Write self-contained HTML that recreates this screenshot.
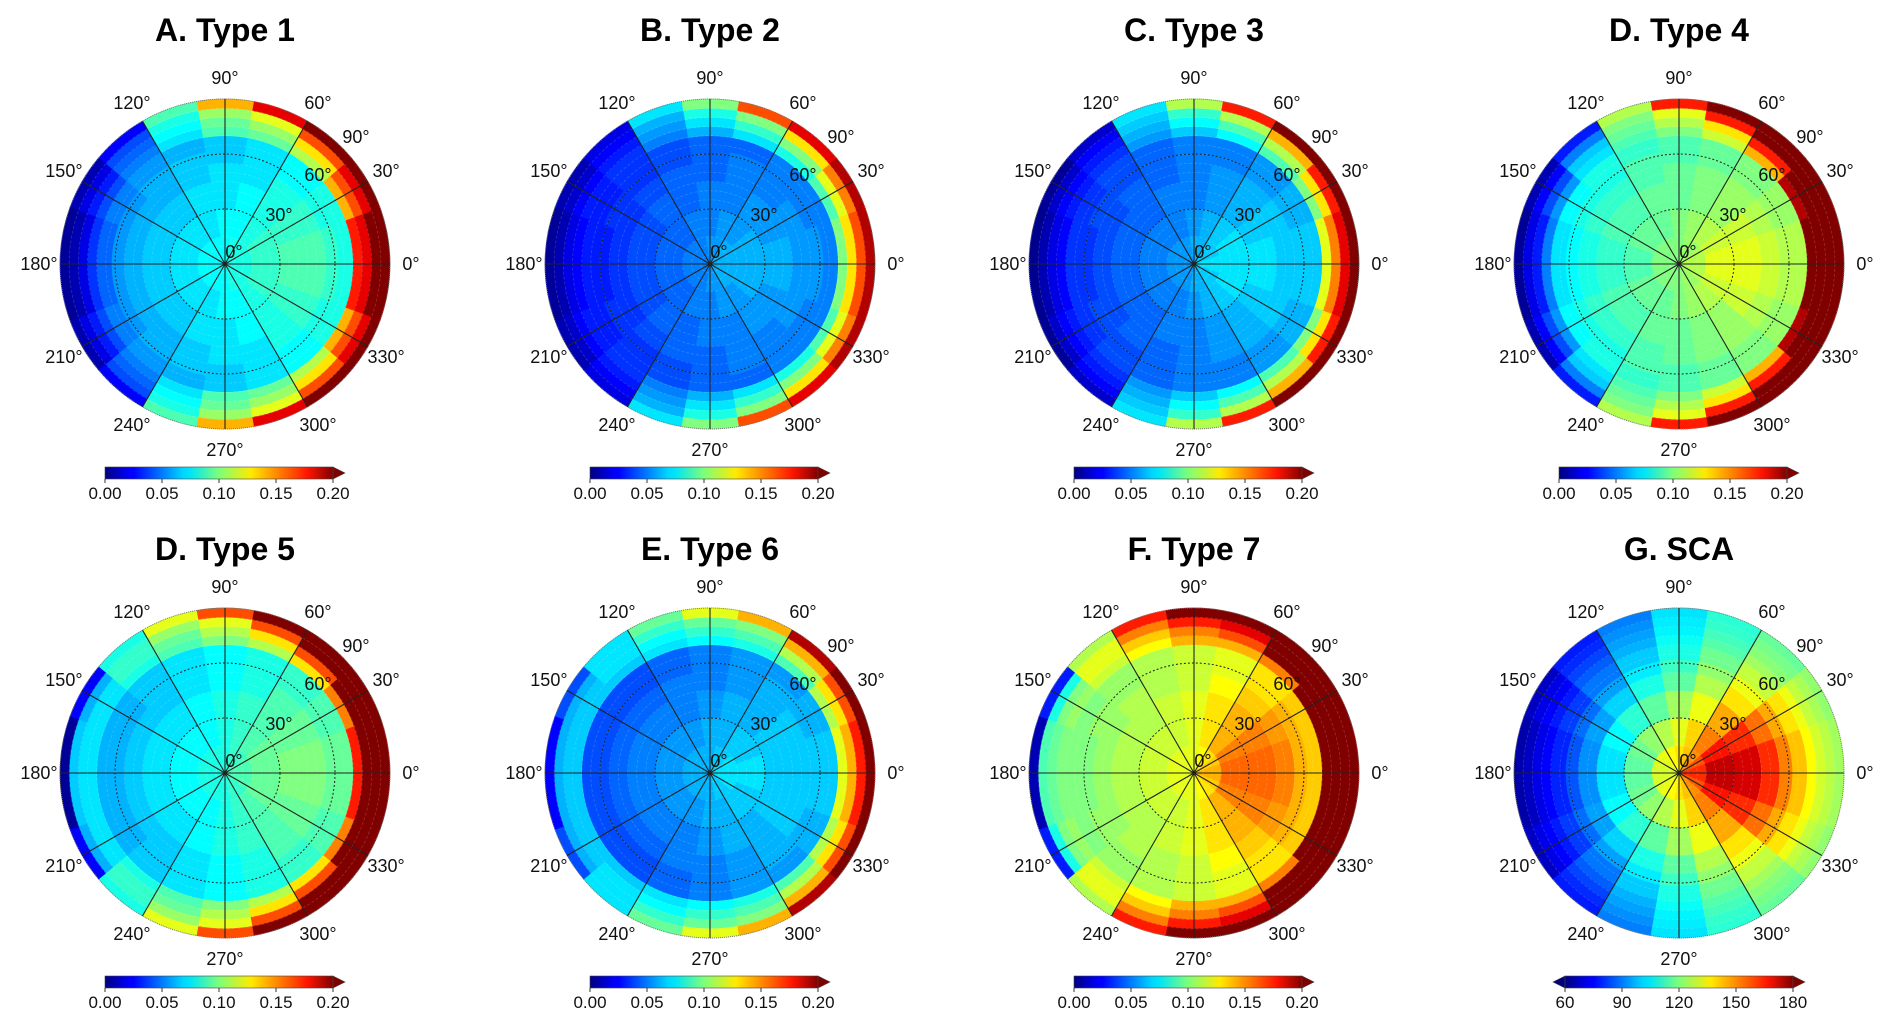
<!DOCTYPE html>
<html><head><meta charset="utf-8">
<style>
html,body{margin:0;padding:0;background:#fff;}
svg{display:block;font-family:"Liberation Sans",sans-serif;}
</style></head>
<body>
<svg id="fig" width="1892" height="1028" viewBox="0 0 1892 1028" xmlns="http://www.w3.org/2000/svg">
<defs>
<linearGradient id="jet" x1="0" x2="1" y1="0" y2="0">
<stop offset="0" stop-color="#00007f"/><stop offset="0.11" stop-color="#0000ff"/>
<stop offset="0.125" stop-color="#0000ff"/><stop offset="0.34" stop-color="#00d4ff"/>
<stop offset="0.375" stop-color="#00e5f7"/><stop offset="0.5" stop-color="#7dff7a"/>
<stop offset="0.64" stop-color="#ffea00"/><stop offset="0.89" stop-color="#ff1300"/>
<stop offset="1" stop-color="#800000"/>
</linearGradient>
</defs>
</svg>
<script>
// sector centres (half disc, mirrored about the 0-180 axis) and zenith ring edges
const azimuthCenters = [10,30,50,70,90,110,130,150,170];
const zenithEdges = [0,15,30,45,55,62,70,75,80,85,90];
const tickLabels = ["0.00","0.05","0.10","0.15","0.20"];
const tickValues = [0,0.05,0.10,0.15,0.20];
const scaTickLabels = ["60","90","120","150","180"];
const scaTickValues = [60,90,120,150,180];
// values ×0.01 (rows = azimuth sector, cols = zenith ring)
const type1Values = [
[8,8.5,9,9,8.5,8,17,18,20,22],
[8,8.5,8.5,8.5,8,8,14,16,18,21],
[8,8,8,8,7.5,7.5,11,13,16,21],
[8,7.5,7.5,7,7,7,9.5,10.5,12,18],
[7.5,7.5,7,7,6.5,6.5,9,9.5,10.5,14],
[7.5,7,7,6.5,6.5,6,7,7.5,8,9],
[7.5,7,6.5,6,6,5.5,5,4.5,4,2.5],
[7.5,7,6.5,6,5.5,5,4,3,2,1],
[7.5,7,6.5,6,5.5,4.5,3.5,2,1,0.5]];
const type2Values = [
[6,6,6,5.5,5.5,5,10,13,16,19],
[6,6,5.5,5.5,5,5,9,12,15,19],
[6,5.5,5.5,5,5,5,8,10,13,18],
[5.5,5.5,5,5,5,4.5,7,8.5,10,16],
[5.5,5,5,4.5,4.5,4.5,6,7,8,10],
[5,5,4.5,4.5,4,4,5,5.5,6,7],
[5,4.5,4.5,4,3.5,3.5,3.5,3,2.5,2],
[5,4.5,4,3.5,3.5,3,3,2.5,1.5,1],
[5,4.5,4,3.5,3,3,2.5,2,1,0.5]];
const type3Values = [
[7,7,7,6.5,6.5,6.5,12,15,18,21],
[6.5,7,6.5,6.5,6,6,10,13,17,21],
[6.5,6.5,6,6,5.5,5.5,9,11,14,20],
[6,6,5.5,5.5,5,5,7.5,9,11,17],
[6,5.5,5,5,5,5,6.5,7.5,8.5,11],
[5.5,5,5,4.5,4.5,4.5,5.5,6,6.5,7],
[5.5,5,4.5,4.5,4,4,3.5,3,2.5,1.5],
[5.5,5,4.5,4,4,3.5,3,2.5,1.5,0.5],
[5.5,5,4.5,4,3.5,3.5,2.5,2,1,0.3]];
const type4Values = [
[11,12,12,11.5,11,11,22,22,22,22],
[11,11.5,11.5,11,10.5,10.5,19,21,22,22],
[10.5,11,10.5,10.5,10,10,14,17,21,22],
[10.5,10.5,10,10,9.5,9.5,11.5,13,17,22],
[10,10,9.5,9.5,9,9,10,11,12,17],
[10,9.5,9.5,9,9,8.5,9,9.5,10,11],
[10,9.5,9,8.5,8,8,7,6.5,5,3],
[10,9.5,9,8.5,8,7.5,5.5,4,2.5,1],
[10,9,8.5,8,7.5,7,5,3,2,0.5]];
const type5Values = [
[9,9.5,10,10,9.5,9.5,17,22,22,22],
[9,9.5,9.5,9.5,9,9,15,20,22,22],
[8.5,9,9,9,8.5,8.5,13,16,20,22],
[8.5,8.5,8.5,8,8,8,11,13,16,22],
[8,8,8,7.5,7.5,7.5,10,11,12,16],
[8,7.5,7.5,7,7,7,9,9.5,10.5,12],
[8,7.5,7,6.5,6.5,6.5,8,8.5,8.5,8],
[8,7.5,7,6.5,6,6,7,7,6,2.5],
[8,7.5,7,6.5,6,6,7,7,6.5,0.5]];
const type6Values = [
[7,7,6.5,6.5,6.5,6.5,12,14,17,20],
[7,6.5,6.5,6.5,6,6,11,13,16,20],
[6.5,6.5,6,6,6,5.5,9,11,14,19],
[6.5,6,6,5.5,5.5,5.5,8,9,10,14],
[6,6,5.5,5,5,5,7.5,8.5,9.5,12],
[6,5.5,5,5,4.5,4.5,7,7.5,8.5,9.5],
[6,5.5,5,4.5,4,4,6.5,7,7,7],
[6,5.5,5,4.5,4,4,6.5,6.5,6,4],
[6,5.5,5,4.5,4,4,6.5,6.5,6,2.5]];
const type7Values = [
[14,15.5,15.5,15,14,13.5,22,22,22,22],
[13.5,15,15,14.5,14,13.5,22,22,22,22],
[13,14,14,13.5,13,13,15,20,22,22],
[12.5,13,13,12.5,12,12,14,16,18,22],
[12,12,12,11.5,11.5,11.5,14,15,17,20],
[12,11.5,11.5,11,11,11,12.5,13.5,15,17],
[12,11.5,11,11,10.5,10.5,11.5,12,12,11],
[12,11.5,11,10.5,10.5,10,10.5,10,8,3],
[12,11.5,11,10.5,10,10,10,9.5,9,1]];
const scaValues = [
[160,172,170,160,150,142,135,130,127,124],
[155,163,160,152,145,138,133,128,125,122],
[148,150,145,138,133,128,124,121,119,117],
[142,140,133,126,122,118,115,113,111,110],
[138,132,124,116,112,108,106,104,103,102],
[135,126,116,108,103,99,96,94,92,90],
[133,122,110,100,94,89,86,83,80,78],
[131,118,105,94,88,82,78,75,72,68],
[130,116,102,92,85,79,75,72,68,65]];

const NS="http://www.w3.org/2000/svg";
const svg=document.getElementById('fig');
const R=165;
function mk(tag,attrs,parent){const e=document.createElementNS(NS,tag);for(const k in attrs)e.setAttribute(k,attrs[k]);(parent||svg).appendChild(e);return e;}
function jet(t){t=Math.max(0,Math.min(1,t));const c=v=>Math.round(255*Math.max(0,Math.min(1,v)));
 return `rgb(${c(1.5-Math.abs(4*t-3))},${c(1.5-Math.abs(4*t-2))},${c(1.5-Math.abs(4*t-1))})`;}
function rScale(z){return z/90*R;}
function pt(cx,cy,r,deg){const a=deg*Math.PI/180;return [cx+r*Math.cos(a),cy-r*Math.sin(a)];}
function wedge(cx,cy,r0,r1,a0,a1){
 const p1=pt(cx,cy,r1,a0),p2=pt(cx,cy,r1,a1),p3=pt(cx,cy,r0,a1),p4=pt(cx,cy,r0,a0);
 let d=`M${p1[0].toFixed(2)},${p1[1].toFixed(2)} A${r1},${r1} 0 0 0 ${p2[0].toFixed(2)},${p2[1].toFixed(2)} `;
 if(r0>0) d+=`L${p3[0].toFixed(2)},${p3[1].toFixed(2)} A${r0},${r0} 0 0 1 ${p4[0].toFixed(2)},${p4[1].toFixed(2)} Z`; else d+=`L${cx},${cy} Z`;
 return d;}

const panels=[
 {key:'a',title:'A. Type 1',cx:225,cy:264,ty:30,vals:type1Values,sca:false},
 {key:'b',title:'B. Type 2',cx:710,cy:264,ty:30,vals:type2Values,sca:false},
 {key:'c',title:'C. Type 3',cx:1194,cy:264,ty:30,vals:type3Values,sca:false},
 {key:'d',title:'D. Type 4',cx:1679,cy:264,ty:30,vals:type4Values,sca:false},
 {key:'e',title:'D. Type 5',cx:225,cy:773,ty:549,vals:type5Values,sca:false},
 {key:'f',title:'E. Type 6',cx:710,cy:773,ty:549,vals:type6Values,sca:false},
 {key:'g',title:'F. Type 7',cx:1194,cy:773,ty:549,vals:type7Values,sca:false},
 {key:'h',title:'G. SCA',cx:1679,cy:773,ty:549,vals:scaValues,sca:true}];

panels.forEach(p=>{
 const g=mk('g',{});
 
 
 const t=mk('text',{x:p.cx,y:p.ty+11,'text-anchor':'middle','font-size':32,'font-weight':'bold',fill:'#000'},g);
 t.textContent=p.title;
 
 
 const norm=v=>p.sca?(v-60)/120:(v/100)/0.2;
 p.vals.forEach((row,i)=>{
  const ac=azimuthCenters[i];
  row.forEach((v,j)=>{
   const r0=rScale(zenithEdges[j]),r1=rScale(zenithEdges[j+1]);
   [[ac-10,ac+10],[-ac-10,-ac+10]].forEach(([a0,a1])=>{
    const w=mk('path',{d:wedge(p.cx,p.cy,r0,r1,a0,a1),fill:jet(norm(v)),stroke:jet(norm(v)),'stroke-width':0.6},g);
    
    
   });
  });
 });
 // faint cell grid
 for(let z=5;z<90;z+=5) mk('circle',{cx:p.cx,cy:p.cy,r:rScale(z),fill:'none',stroke:'rgba(255,255,255,0.18)','stroke-width':0.8,'stroke-dasharray':'3,2'},g);
 // zenith rings
 [30,60].forEach(z=>{const c=mk('circle',{cx:p.cx,cy:p.cy,r:rScale(z),fill:'none',stroke:'#222','stroke-width':1,'stroke-dasharray':'2,2'},g);
  
  });
 const b=mk('circle',{cx:p.cx,cy:p.cy,r:R,fill:'none',stroke:'#777','stroke-width':1,'stroke-dasharray':'1,1'},g);
 
 
 for(let a=0;a<360;a+=30){const q=pt(p.cx,p.cy,R,a);
  const l=mk('line',{x1:p.cx,y1:p.cy,x2:q[0],y2:q[1],stroke:'#222','stroke-width':1.1},g);
  
  
  const lp=pt(p.cx,p.cy,R+21,a);
  const tx=mk('text',{x:lp[0],y:lp[1]+6,'text-anchor':'middle','font-size':18,fill:'#111'},g);
  tx.textContent=a+'°';
  
  }
 [['0°',9,-12],['30°',54,-49],['60°',93,-89],['90°',131,-127]].forEach(([s,dx,dy])=>{
  const tx=mk('text',{x:p.cx+dx,y:p.cy+dy+6,'text-anchor':'middle','font-size':18,fill:'#111'},g);
  tx.textContent=s;
  
  });
 // colorbar
 const y0=p.cy+203,h=12;
 let x0,x1;
 if(p.sca){x0=p.cx-114;x1=p.cx+114;
  const a=mk('polygon',{points:`${x0},${y0} ${x0-12},${y0+h/2} ${x0},${y0+h}`,fill:'#00007f',stroke:'#444','stroke-width':0.6},g);
  
  }
 else {x0=p.cx-120;x1=p.cx+108;}
 const cb=mk('rect',{x:x0,y:y0,width:x1-x0,height:h,fill:'url(#jet)',stroke:'#444','stroke-width':0.6},g);
 
 
 const ar=mk('polygon',{points:`${x1},${y0} ${x1+12},${y0+h/2} ${x1},${y0+h}`,fill:'#800000',stroke:'#444','stroke-width':0.6},g);
 
 
 const tv=p.sca?scaTickValues:tickValues, tl=p.sca?scaTickLabels:tickLabels;
 const lo=tv[0],hi=tv[tv.length-1];
 tv.forEach((v,k)=>{const x=x0+(v-lo)/(hi-lo)*(x1-x0);
  mk('line',{x1:x,y1:y0+h,x2:x,y2:y0+h+4,stroke:'#333','stroke-width':1},g);
  const tx=mk('text',{x:x,y:y0+h+20,'text-anchor':'middle','font-size':17,fill:'#111'},g);
  tx.textContent=tl[k];
  
  });
});
</script>
</body></html>
